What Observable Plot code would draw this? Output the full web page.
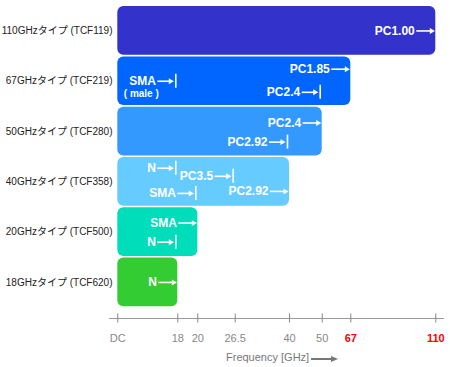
<!DOCTYPE html>
<html>
<head>
<meta charset="utf-8">
<script src="https://cdn.jsdelivr.net/npm/d3@7"></script>
<script src="https://cdn.jsdelivr.net/npm/@observablehq/plot@0.6"></script>
<style>
  html, body { margin: 0; padding: 0; background: #fff; }
  #chart { width: 450px; }
  .caption { position: relative; height: 17px; font: 11px "Liberation Sans", Arial, sans-serif; color: #777; }
  .caption .t { position: absolute; left: 226px; top: 1px; white-space: nowrap; }
  .caption .line { position: absolute; left: 311px; top: 8px; width: 21px; height: 1.5px; background: #777; }
  .caption .head { position: absolute; left: 331px; top: 5.5px; width: 0; height: 0; border-left: 7px solid #777; border-top: 3px solid transparent; border-bottom: 3px solid transparent; }
</style>
</head>
<body>
<div id="chart"></div>
<script>
// Rows (product types)
const rowNames = [
  "110GHzタイプ (TCF119)",
  "67GHzタイプ (TCF219)",
  "50GHzタイプ (TCF280)",
  "40GHzタイプ (TCF358)",
  "20GHzタイプ (TCF500)",
  "18GHzタイプ (TCF620)"
];
const rowMax = [110, 67, 50, 40, 20, 18];
const rowColors = ["#3333cc", "#0066ff", "#3399ff", "#66ccff", "#00ddbb", "#33cc33"];

// Connectors
const connRow  = [0, 1, 1, 1, 2, 2, 3, 3, 3, 3, 4, 4, 5];
const connName = ["PC1.00", "PC1.85", "SMA", "PC2.4", "PC2.4", "PC2.92", "N", "PC3.5", "SMA", "PC2.92", "SMA", "N", "N"];
const connFreq = [110, 67, 18, 50, 50, 40, 18, 26.5, 20, 40, 20, 18, 18];
const connStop = [false, false, true, true, false, true, true, true, true, false, false, true, false];
const connNote = ["", "", "( male )", "", "", "", "", "", "", "", "", "", ""];
// vertical lane inside a row (fraction of row)
const connLane = [0, -0.24, 0, 0.22, -0.17, 0.21, -0.27, -0.11, 0.23, 0.19, -0.18, 0.2, 0];
const noteLane = 0.245;

// Axis (non-uniform frequency axis)
const xTicks = [0, 18, 20, 26.5, 40, 50, 67, 110];
const xTicksRed = [67, 110];
const xTickPos = [0, 60, 80, 117.4, 171.7, 204.4, 233, 318];

// piecewise frequency -> axis position
const f2a = d3.scaleLinear().domain(xTicks).range(xTickPos);
const tickLabel = new Map(xTicks.map(t => [f2a(t), t === 0 ? "DC" : String(t)]));

const rows = rowNames.map((name, i) => ({i, name, max: rowMax[i], color: rowColors[i]}));
const conns = connName.map((name, k) => ({
  row: connRow[k], name, freq: connFreq[k], stop: connStop[k], note: connNote[k], lane: connLane[k]
}));
const stops = conns.filter(d => d.stop);
const opens = conns.filter(d => !d.stop);
const notes = conns.filter(d => d.note);

const yOf = d => d.row + d.lane;
const xOf = d => f2a(d.freq);
const labelFont = "'Liberation Sans', Arial, sans-serif";

function connMarks(data, o) {
  return [
    Plot.ruleY(data, {x1: xOf, x2: xOf, y: yOf, stroke: "white", strokeWidth: 1.6, insetLeft: o.lineL, insetRight: o.lineR}),
    Plot.dot(data, {x: xOf, y: yOf, symbol: "triangle", r: 2.2, rotate: 90, fill: "white", stroke: null, dx: o.head}),
    Plot.text(data, {x: xOf, y: yOf, text: "name", textAnchor: "end", dx: o.text, fill: "white", fontWeight: "bold", fontSize: 12, fontFamily: labelFont})
  ];
}

const plot = Plot.plot({
  width: 450,
  height: 350,
  marginLeft: 109,
  marginRight: 7,
  marginTop: 0,
  marginBottom: 32,
  x: {domain: [0, 318], range: [117.3, 435.3]},
  y: {domain: [-0.5, 5.5], range: [5.3, 307.1]},
  style: {fontFamily: labelFont, background: "white"},
  marks: [
    Plot.rect(rows, {x1: d => f2a(0), x2: d => f2a(d.max), y1: d => d.i - 0.5, y2: d => d.i + 0.5, fill: "color", rx: 6, insetTop: 0.8, insetBottom: 0.8}),
    ...connMarks(opens, {lineL: -19, lineR: 4, head: -4.3, text: -21}),
    ...connMarks(stops, {lineL: -20, lineR: 7, head: -7.3, text: -22}),
    Plot.ruleX(stops, {x: xOf, y1: yOf, y2: yOf, insetTop: -7, insetBottom: -7, stroke: "white", strokeWidth: 1.6, dx: -2}),
    Plot.text(notes, {x: xOf, y: d => d.row + noteLane, text: "note", textAnchor: "end", dx: -19, fill: "white", fontWeight: "bold", fontSize: 10, fontFamily: labelFont}),
    Plot.axisY({ticks: rows.map(d => d.i), tickFormat: i => rowNames[i], tickSize: 0, tickPadding: -3, fontSize: 10, fill: "#222", fontFamily: "'Liberation Sans', 'Noto Sans CJK JP', sans-serif", label: null}),
    Plot.frame({anchor: "bottom", stroke: "#999"}),
    Plot.axisX({ticks: xTicks.map(f2a), tickSize: 9, dy: -4.5, text: null, stroke: "#888", label: null}),
    Plot.axisX({ticks: xTicks.filter(t => !xTicksRed.includes(t)).map(f2a), tickSize: 0, tickPadding: 16, tickFormat: v => tickLabel.get(v), fill: "#888", fontSize: 11, label: null}),
    Plot.axisX({ticks: xTicksRed.map(f2a), tickSize: 0, tickPadding: 16, tickFormat: v => tickLabel.get(v), fill: "#ff0000", fontWeight: "bold", fontSize: 11, label: null})
  ]
});
document.getElementById("chart").appendChild(plot);
const cap = document.createElement("div");
cap.className = "caption";
cap.innerHTML = '<span class="t">Frequency [GHz]</span><span class="line"></span><span class="head"></span>';
document.getElementById("chart").appendChild(cap);
</script>
</body>
</html>
